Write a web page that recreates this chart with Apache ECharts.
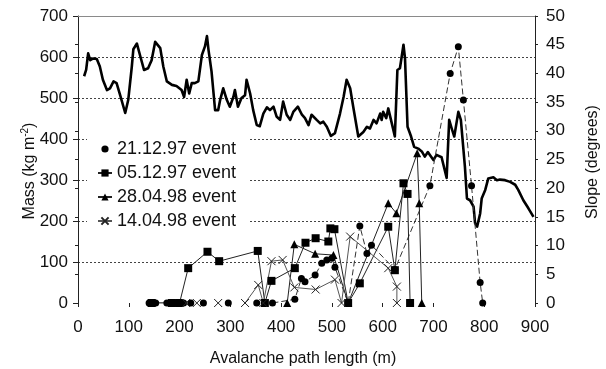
<!DOCTYPE html>
<html>
<head>
<meta charset="utf-8">
<script src="https://cdn.jsdelivr.net/npm/echarts@6/dist/echarts.min.js"></script>
<style>
  html, body { margin: 0; padding: 0; background: #fff; }
  #chart { width: 606px; height: 369px; }
</style>
</head>
<body>
<div id="chart"></div>
<script>
// Slope profile along the avalanche path (right axis, degrees)
const slopeDist = [12,16,20,24,30,37,43,49,57,63,70,76,83,93,99,106,109,116,122,130,
  138,145,152,155,162,168,175,185,194,204,209,214,219,224,230,237,244,250,254,257,
  263,270,276,280,286,293,299,306,309,315,322,329,332,339,345,352,358,365,372,378,
  385,391,398,404,411,418,424,433,441,447,454,460,470,477,483,490,498,506,516,523,
  529,536,542,552,562,569,575,582,588,595,598,601,607,611,618,624,629,634,641,644,
  649,656,662,670,677,683,689,693,700,706,716,726,731,736,741,749,754,762,766,772,
  779,782,786,792,795,802,808,818,825,831,841,851,861,867,877,887,897];
const slopeDeg = [39.5,40.6,43.5,42.3,42.6,42.5,41.2,38.9,37.1,37.4,38.6,38.3,36.2,33.1,35.4,41.2,44.2,45.2,43.2,40.6,
  40.9,42.3,45.5,45.8,44.4,41.2,38.6,38.0,37.8,37.1,35.9,38.9,36.5,38.3,38.3,38.6,43.2,44.7,46.5,44.1,
  40.3,33.6,33.6,35.4,37.4,35.4,34.2,35.9,37.1,34.2,35.7,36.2,38.9,36.5,33.6,31.0,30.8,33.0,34.1,33.6,
  34.2,32.5,31.9,35.1,32.8,31.9,33.3,34.2,32.8,32.2,31.0,32.8,31.9,31.3,31.6,30.7,29.1,29.6,33.0,35.9,
  38.9,37.4,34.2,29.0,29.8,30.7,30.4,31.9,31.3,33.0,31.9,33.3,32.2,33.9,31.3,29.0,40.6,40.9,45.0,42.6,
  30.7,29.0,27.2,26.9,26.4,25.5,26.3,25.8,24.9,25.8,25.4,21.8,31.9,30.4,29.0,33.3,31.9,23.7,18.2,17.9,
  16.8,13.9,13.3,15.6,18.2,19.7,21.7,21.9,21.4,21.5,21.4,21.1,20.6,19.7,17.9,16.5,15.0];

// Deposited snow mass per event (left axis, kg m-2); null = no reading (line gap)
const dec21Dist = [140,145,150,153,175,180,185,190,195,200,208,215,222,235,247,270,296,325,352,368,383,
  427,440,447,467,480,490,500,506,532,555,569,578,624,693,733,749,759,775,792,797];
const dec21Mass = [0,0,0,0,0,0,0,0,0,0,0,null,0,null,0,null,0,null,0,null,0,
  9,60,52,68,97,105,109,87,0,188,121,141,82,286,560,625,495,286,50,0];

const dec05Dist = [145,185,200,217,255,278,354,368,381,427,448,468,493,497,505,532,555,611,624,641,649,654];
const dec05Mass = [0,0,0,85,125,102,127,0,54,85,147,158,150,182,180,0,48,186,80,292,266,0];

const apr28Dist = [412,426,467,503,532,611,627,668,672,677];
const apr28Mass = [0,143,120,117,0,243,219,365,243,0];

const apr14Dist = [213,223,234,255,276,300,329,355,365,381,403,426,468,506,519,536,611,628,628];
const apr14Mass = [0,null,0,null,0,null,0,44,0,102,105,38,33,57,0,162,85,40,0];

const eventNames = ['21.12.97 event', '05.12.97 event', '28.04.98 event', '14.04.98 event'];

const zip = (xs, ys) => xs.map((x, i) => [x, ys[i] === null ? '-' : ys[i]]);
const FONT = 'Liberation Sans, Arial, sans-serif';
const INK = '#111';
const CROSS = 'path://M0,0L10,10M10,0L0,10';

const chart = echarts.init(document.getElementById('chart'), null, { renderer: 'canvas' });

chart.setOption({
  animation: false,
  backgroundColor: '#fff',
  textStyle: { fontFamily: FONT, color: INK },
  grid: { left: 78, right: 71, top: 16, bottom: 66 },
  legend: {
    orient: 'vertical',
    left: 87,
    top: 134,
    padding: [6, 12, 6, 10],
    itemGap: 6,
    itemWidth: 14,
    itemHeight: 9,
    backgroundColor: '#fff',
    textStyle: { fontFamily: FONT, fontSize: 18, color: INK },
    data: [
      { name: eventNames[0], lineStyle: { opacity: 0 } },
      { name: eventNames[1] },
      { name: eventNames[2] },
      { name: eventNames[3] }
    ]
  },
  xAxis: [
    {
      type: 'value', min: 0, max: 900, interval: 100,
      axisLine: { show: false },
      axisTick: { show: true, length: 4, lineStyle: { color: '#222' } },
      axisLabel: { fontFamily: FONT, fontSize: 17, color: INK, margin: 16 },
      splitLine: { show: false }
    },
    {
      type: 'value', position: 'top', min: 0, max: 900,
      axisLine: { show: true, onZero: false, lineStyle: { color: '#8a8a8a', width: 1 } },
      axisTick: { show: false }, axisLabel: { show: false }, splitLine: { show: false }
    }
  ],
  yAxis: [
    {
      type: 'value', min: 0, max: 700, interval: 100,
      axisLine: { show: true, onZero: false, lineStyle: { color: '#222' } },
      axisTick: { show: true, length: 5, lineStyle: { color: '#222' } },
      axisLabel: { fontFamily: FONT, fontSize: 17, color: INK, margin: 10 },
      splitLine: {
        show: true, showMinLine: false, showMaxLine: false,
        lineStyle: { color: '#444', width: 1, type: [2, 2] }
      }
    },
    {
      type: 'value', position: 'right', min: 0, max: 50, interval: 5,
      axisLine: { show: true, onZero: false, lineStyle: { color: '#222' } },
      axisTick: { show: true, length: 3, lineStyle: { color: '#222' } },
      axisLabel: { fontFamily: FONT, fontSize: 17, color: INK, margin: 11 },
      splitLine: { show: false }
    },
    {
      // inner half of the crossing ticks on the slope axis
      type: 'value', position: 'right', min: 0, max: 50, interval: 5,
      axisLine: { show: false },
      axisTick: { show: true, inside: true, length: 3, lineStyle: { color: '#222' } },
      axisLabel: { show: false },
      splitLine: { show: false }
    }
  ],
  graphic: [
    {
      type: 'text', x: 30, y: 171, rotation: Math.PI / 2,
      style: {
        text: '{a|Mass (kg m}{s|-2}{a|)}',
        fill: INK, align: 'center', verticalAlign: 'middle',
        rich: {
          a: { fontFamily: FONT, fontSize: 16, lineHeight: 20, fill: INK },
          s: { fontFamily: FONT, fontSize: 10, lineHeight: 10, verticalAlign: 'top', fill: INK }
        }
      }
    },
    {
      type: 'text', x: 593, y: 162, rotation: Math.PI / 2,
      style: {
        text: 'Slope (degrees)', fill: INK, align: 'center', verticalAlign: 'middle',
        font: '16px ' + FONT
      }
    },
    {
      type: 'text', x: 303, y: 359,
      style: {
        text: 'Avalanche path length (m)', fill: INK, align: 'center', verticalAlign: 'middle',
        font: '16px ' + FONT
      }
    }
  ],
  series: [
    {
      name: 'Slope', type: 'line', yAxisIndex: 1, z: 3,
      data: zip(slopeDist, slopeDeg),
      showSymbol: false, symbol: 'none',
      lineStyle: { color: '#000', width: 2.6, join: 'round' }
    },
    {
      name: eventNames[0], type: 'line', yAxisIndex: 0, z: 4,
      data: zip(dec21Dist, dec21Mass),
      symbol: 'circle', symbolSize: 7,
      itemStyle: { color: '#000' },
      lineStyle: { color: '#333', width: 1, type: [6, 3] }
    },
    {
      name: eventNames[1], type: 'line', yAxisIndex: 0, z: 4,
      data: zip(dec05Dist, dec05Mass),
      symbol: 'rect', symbolSize: 8,
      itemStyle: { color: '#000' },
      lineStyle: { color: '#222', width: 1 }
    },
    {
      name: eventNames[2], type: 'line', yAxisIndex: 0, z: 4,
      data: zip(apr28Dist, apr28Mass),
      symbol: 'triangle', symbolSize: 8,
      itemStyle: { color: '#000' },
      lineStyle: { color: '#222', width: 1 }
    },
    {
      name: eventNames[3], type: 'line', yAxisIndex: 0, z: 4,
      data: zip(apr14Dist, apr14Mass),
      symbol: CROSS, symbolSize: 8,
      itemStyle: { color: 'rgba(0,0,0,0)', borderColor: '#222', borderWidth: 1 },
      lineStyle: { color: '#555', width: 1 }
    }
  ]
});
</script>
</body>
</html>
